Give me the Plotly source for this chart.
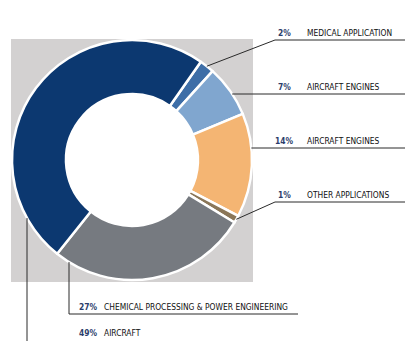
import math
import plotly.graph_objects as go

# Market share by application segment
shares = [2, 7, 14, 1, 27, 49]
segments = [
    "MEDICAL APPLICATION",
    "AIRCRAFT ENGINES",
    "AIRCRAFT ENGINES",
    "OTHER APPLICATIONS",
    "CHEMICAL PROCESSING & POWER ENGINEERING",
    "AIRCRAFT",
]
slice_colors = ["#3e6ea7", "#80a6cf", "#f4b573", "#8a7658", "#767a80", "#0c3870"]

W, H = 405, 341
CX, CY, R = 132, 160, 120          # donut centre / outer radius in px
HOLE = 0.55
ROTATION = 35                      # first slice starts 35 deg clockwise from 12 o'clock
LINE_COLOR = "#2a2a2a"
PCT_COLOR = "#2b3d6b"
FONT = "DejaVu Sans Condensed, Liberation Sans Narrow, Arial Narrow, Liberation Sans"
FONT_SIZE = 8.4


def px(x):
    return x / W


def py(y):
    return 1 - y / H


def mid_angle(i):
    start = ROTATION + 360 * sum(shares[:i]) / sum(shares)
    return start + 180 * shares[i] / sum(shares)


def edge_point(i):
    a = math.radians(mid_angle(i))
    return CX + R * math.sin(a), CY - R * math.cos(a)


def edge_x_at_y(y):
    return CX + math.sqrt(R * R - (y - CY) ** 2)


def edge_y_at_x(x):
    return CY + math.sqrt(R * R - (x - CX) ** 2)


fig = go.Figure()
fig.add_trace(go.Pie(
    values=shares,
    text=segments,
    sort=False,
    direction="clockwise",
    rotation=ROTATION,
    hole=HOLE,
    textinfo="none",
    hoverinfo="text+percent",
    marker=dict(colors=slice_colors, line=dict(color="white", width=2.5)),
    domain=dict(x=[px(CX - R), px(CX + R)], y=[py(CY + R), py(CY - R)]),
    showlegend=False,
))

# grey backdrop with a white disc filling the donut hole
r_in = R * HOLE
shapes = [
    dict(type="rect", xref="paper", yref="paper", layer="below",
         x0=px(11), x1=px(253), y0=py(282), y1=py(39),
         fillcolor="#d3d1d1", line=dict(width=0)),
    dict(type="circle", xref="paper", yref="paper", layer="below",
         x0=px(CX - r_in), x1=px(CX + r_in), y0=py(CY + r_in), y1=py(CY - r_in),
         fillcolor="white", line=dict(width=0)),
]


def seg(x0, y0, x1, y1):
    shapes.append(dict(type="line", xref="paper", yref="paper",
                       x0=px(x0), y0=py(y0), x1=px(x1), y1=py(y1),
                       line=dict(color=LINE_COLOR, width=1)))


annotations = []


def label(pct_x, name_x, y, i):
    annotations.append(dict(x=px(pct_x), y=py(y), xref="paper", yref="paper",
                            xanchor="center", yanchor="middle", showarrow=False,
                            text=f"<b>{shares[i]}%</b>",
                            font=dict(family=FONT, size=FONT_SIZE, color=PCT_COLOR)))
    annotations.append(dict(x=px(name_x), y=py(y), xref="paper", yref="paper",
                            xanchor="left", yanchor="middle", showarrow=False,
                            text=segments[i],
                            font=dict(family=FONT, size=FONT_SIZE, color="#111111")))


# right-hand column
row_lines = {0: 40, 1: 94, 2: 148, 3: 202}
for i, ly in row_lines.items():
    label(284, 305, ly - 7, i)
    if i in (0, 3):
        ex, ey = edge_point(i)
        seg(ex, ey, 275, ly)
        seg(275, ly, W, ly)
    else:
        seg(edge_x_at_y(ly), ly, W, ly)

# bottom labels
seg(69, edge_y_at_x(69), 69, 314)
seg(69, 314, 298, 314)
label(88, 102, 307, 4)
seg(27, edge_y_at_x(27), 27, H)
label(88, 102, 333, 5)

fig.update_layout(
    width=W, height=H,
    margin=dict(l=0, r=0, t=0, b=0),
    paper_bgcolor="white", plot_bgcolor="white",
    shapes=shapes, annotations=annotations,
)
fig.write_html("out.html")
